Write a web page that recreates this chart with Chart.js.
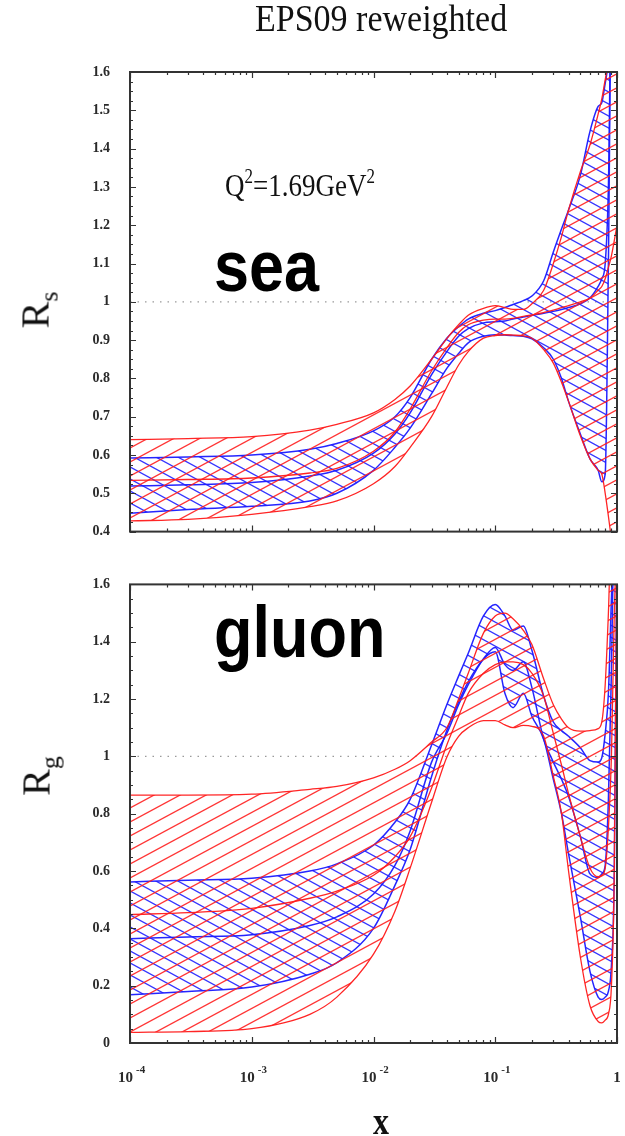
<!DOCTYPE html>
<html><head><meta charset="utf-8">
<script src="https://cdn.jsdelivr.net/npm/chart.js@4.4.0/dist/chart.umd.min.js"></script>
<style>
html,body{margin:0;padding:0;background:#fff;}
#wrap{position:relative;width:625px;height:1136px;overflow:hidden;background:#fff;}
canvas{position:absolute;left:0;}
.t{position:absolute;white-space:nowrap;line-height:1;color:#111;}
.serif{font-family:"Liberation Serif","Times New Roman",serif;}
.sans{font-family:"Liberation Sans",Arial,sans-serif;font-weight:bold;color:#000;}
</style></head><body>
<div id="wrap">
<canvas id="c1" width="625" height="560" style="top:0;width:625px;height:560px"></canvas>
<canvas id="c2" width="625" height="580" style="top:556px;width:625px;height:580px"></canvas>
<div class="t serif" style="left:255px;top:0px;font-size:34px;transform:scaleY(1.12);transform-origin:0 0;">EPS09 reweighted</div>
<div class="t serif" style="left:225px;top:166px;font-size:27px;transform:scaleY(1.2);transform-origin:0 0;">Q<sup style="font-size:17px;vertical-align:11px">2</sup>=1.69GeV<sup style="font-size:17px;vertical-align:11px">2</sup></div>
<div class="t sans" style="left:214px;top:230px;font-size:63px;transform:scaleY(1.15);transform-origin:0 0;">sea</div>
<div class="t sans" style="left:214px;top:596px;font-size:63px;transform:scaleY(1.15);transform-origin:0 0;">gluon</div>
<div class="t serif" style="left:39px;top:310px;font-size:40px;transform:translate(-50%,-50%) rotate(-90deg);">R<sub style="font-size:26px">s</sub></div>
<div class="t serif" style="left:40px;top:776px;font-size:40px;transform:translate(-50%,-50%) rotate(-90deg);">R<sub style="font-size:26px">g</sub></div>
<div class="t serif" style="left:381px;top:1121px;font-size:32px;font-weight:bold;transform:translate(-50%,-50%) scaleY(1.2);">x</div>
</div>
<script>
// ---------------- data ----------------
const xs = [1e-4, 3e-4, 1e-3, 3e-3, 5e-3, 0.01, 0.015, 0.02, 0.03, 0.04, 0.05, 0.06, 0.08, 0.1, 0.12, 0.14, 0.17, 0.2, 0.25, 0.3, 0.35, 0.4, 0.5, 0.6, 0.7, 0.75, 0.8, 0.85, 0.9, 0.95, 1.0];

// sea (R_s) — EPS09 original (red)
const seaRedUp  = [0.64,0.643,0.648,0.665,0.68,0.71,0.745,0.78,0.85,0.904,0.94,0.965,0.983,0.99,0.985,0.98,0.98,0.995,1.03,1.10,1.17,1.24,1.34,1.41,1.49,1.53,1.58,1.62,1.65,1.70,1.75];
const seaRedMid = [0.534,0.536,0.54,0.553,0.565,0.61,0.66,0.72,0.82,0.88,0.92,0.94,0.952,0.955,0.955,0.957,0.962,0.966,0.972,0.978,0.985,0.99,1.0,1.01,1.03,1.04,1.06,1.09,1.12,1.16,1.2];
const seaRedLow = [0.428,0.432,0.445,0.465,0.48,0.525,0.57,0.62,0.70,0.777,0.835,0.87,0.905,0.912,0.914,0.913,0.911,0.905,0.875,0.84,0.79,0.74,0.65,0.59,0.56,0.55,0.50,0.44,0.38,0.32,0.25];
// sea — reweighted (blue)
const seaBlueUp  = [0.592,0.595,0.60,0.615,0.63,0.663,0.70,0.75,0.85,0.905,0.935,0.955,0.97,0.977,0.985,0.993,1.003,1.015,1.055,1.13,1.19,1.24,1.33,1.445,1.51,1.52,1.57,1.62,1.66,1.70,1.75];
const seaBlueMid = [0.519,0.522,0.528,0.545,0.56,0.605,0.655,0.71,0.81,0.87,0.91,0.93,0.945,0.948,0.95,0.955,0.96,0.965,0.97,0.975,0.98,0.985,0.995,1.01,1.04,1.06,1.10,1.3,1.8,1.8,1.8];
const seaBlueLow = [0.448,0.458,0.466,0.48,0.50,0.56,0.62,0.67,0.76,0.826,0.865,0.893,0.91,0.914,0.913,0.912,0.91,0.903,0.88,0.85,0.80,0.74,0.655,0.59,0.56,0.53,0.55,1.1,1.8,1.8,1.8];

// gluon (R_g) — EPS09 original (red)
const gluRedUp  = [0.865,0.865,0.868,0.885,0.895,0.925,0.955,0.985,1.05,1.10,1.20,1.29,1.43,1.49,1.50,1.48,1.44,1.39,1.27,1.18,1.13,1.10,1.088,1.09,1.097,1.12,1.25,1.5,1.8,1.8,1.8];
const gluRedMid = [0.448,0.455,0.47,0.505,0.53,0.585,0.65,0.72,0.89,1.04,1.14,1.22,1.29,1.32,1.33,1.33,1.32,1.29,1.21,1.08,0.97,0.87,0.72,0.61,0.58,0.585,0.61,0.75,1.0,1.5,1.8];
const gluRedLow = [0.037,0.04,0.05,0.10,0.16,0.31,0.46,0.61,0.84,0.997,1.07,1.10,1.125,1.125,1.11,1.10,1.108,1.105,1.07,0.93,0.80,0.60,0.30,0.13,0.075,0.07,0.08,0.10,0.20,0.6,1.8];
// gluon — reweighted (blue)
const gluBlueUp  = [0.562,0.568,0.575,0.60,0.625,0.69,0.77,0.85,1.04,1.18,1.28,1.36,1.49,1.53,1.49,1.44,1.455,1.37,1.21,1.12,1.09,1.07,1.03,0.985,0.98,0.995,1.08,1.22,1.55,1.8,1.8];
const gluBlueMid = [0.364,0.37,0.378,0.41,0.44,0.52,0.62,0.74,0.98,1.08,1.18,1.25,1.34,1.38,1.32,1.30,1.33,1.24,1.06,0.98,0.92,0.86,0.72,0.59,0.577,0.59,0.62,0.85,1.3,1.8,1.8];
const gluBlueLow = [0.168,0.18,0.195,0.24,0.28,0.40,0.55,0.675,0.93,1.09,1.19,1.26,1.34,1.365,1.22,1.17,1.22,1.14,1.06,0.92,0.80,0.66,0.44,0.25,0.16,0.152,0.16,0.18,0.27,0.6,1.8];

// ticks
const seaYTicks = [0.4,0.5,0.6,0.7,0.8,0.9,1,1.1,1.2,1.3,1.4,1.5,1.6];
const gluYTicks = [0,0.2,0.4,0.6,0.8,1,1.2,1.4,1.6];
const xTickValues = [1e-4,1e-3,1e-2,1e-1,1];
const xTickBase = ['10','10','10','10','1'];
const xTickExp = ['-4','-3','-2','-1',''];
const refLevel = 1;

// ---------------- helpers ----------------
function hatch(color, dir, w, h){
  const c = document.createElement('canvas'); c.width = w; c.height = h;
  const g = c.getContext('2d'); g.strokeStyle = color; g.lineWidth = 1.3;
  for (let n = -3; n <= 3; n++){
    g.beginPath();
    if (dir > 0){ g.moveTo(-w, h + n*h); g.lineTo(2*w, -2*h + n*h); }
    else { g.moveTo(-w, -h + n*h); g.lineTo(2*w, 2*h + n*h); }
    g.stroke();
  }
  return g.createPattern(c, 'repeat');
}
const RED = 'rgba(255,25,25,0.95)';
const BLUE = 'rgba(25,25,255,0.95)';
const redPat = hatch('rgba(255,30,30,0.9)', 1, 26, 14);
const bluePat = hatch('rgba(30,30,255,0.9)', -1, 22, 12);

const pts = arr => xs.map((x,i)=>({x:x, y:arr[i]}));
function line(arr, color, w, fill, bg){
  return {data: pts(arr), borderColor: color, borderWidth: w, pointRadius: 0,
          fill: fill, backgroundColor: bg || 'transparent', cubicInterpolationMode: 'monotone'};
}
function band(low, mid, up, color, pat, w){
  return [line(low, color, w, false), line(up, color, w, '-1', pat), line(mid, color, w, false)];
}

const framePlugin = {
  id: 'frame',
  beforeDatasetsDraw(chart, args, o){
    const {ctx, chartArea:a, scales:{y}} = chart;
    const py = y.getPixelForValue(refLevel);
    ctx.save(); ctx.strokeStyle = '#9a9a9a'; ctx.lineWidth = 1.2; ctx.setLineDash([1.5, 6]);
    ctx.beginPath(); ctx.moveTo(a.left, py); ctx.lineTo(a.right, py); ctx.stroke(); ctx.restore();
  },
  afterDatasetsDraw(chart, args, o){
    const {ctx, chartArea:a, scales:{x, y}} = chart;
    ctx.save();
    ctx.strokeStyle = '#333'; ctx.lineWidth = 1.2;
    ctx.beginPath();
    for (let d = -4; d <= 0; d++){
      for (let m = 1; m <= 9; m++){
        const v = m * Math.pow(10, d); if (v > 1.0001) break;
        const px = Math.round(x.getPixelForValue(v)) + 0.5;
        const L = m === 1 ? 6 : 3;
        ctx.moveTo(px, a.bottom); ctx.lineTo(px, a.bottom - L);
        ctx.moveTo(px, a.top); ctx.lineTo(px, a.top + L);
      }
    }
    const nMin = Math.round((o.max - o.min) / o.minor);
    for (let k = 0; k <= nMin; k++){
      const v = o.min + k * o.minor;
      const major = Math.abs(v / o.major - Math.round(v / o.major)) < 1e-6;
      const py = Math.round(y.getPixelForValue(v)) + 0.5;
      const L = major ? 6 : 3;
      ctx.moveTo(a.left, py); ctx.lineTo(a.left + L, py);
      ctx.moveTo(a.right, py); ctx.lineTo(a.right - L, py);
    }
    ctx.stroke();
    ctx.strokeStyle = '#333'; ctx.lineWidth = 2;
    ctx.strokeRect(a.left, a.top, a.right - a.left, a.bottom - a.top);
    if (o.xlabels){
      ctx.fillStyle = '#2a2a2a';
      xTickValues.forEach((v, i) => {
        const px = x.getPixelForValue(v);
        ctx.textBaseline = 'middle';
        ctx.font = 'bold 15px "Liberation Serif", serif';
        if (xTickExp[i] === ''){
          ctx.textAlign = 'center'; ctx.fillText(xTickBase[i], px, o.labelY);
        } else {
          ctx.textAlign = 'right'; ctx.fillText(xTickBase[i], px + 3, o.labelY);
          ctx.font = 'bold 11px "Liberation Serif", serif';
          ctx.textAlign = 'left'; ctx.fillText(xTickExp[i], px + 6, o.labelY - 8);
        }
      });
    }
    ctx.restore();
  }
};

function makeChart(id, datasets, yMin, yMax, yTicks, pad, frameOpts){
  return new Chart(document.getElementById(id), {
    type: 'line',
    data: { datasets },
    options: {
      responsive: false, animation: false, devicePixelRatio: 1,
      layout: { padding: pad },
      plugins: { legend: {display:false}, tooltip: {enabled:false}, frame: frameOpts },
      scales: {
        x: { type: 'logarithmic', min: 1e-4, max: 1, display: true,
             grid: {display:false, drawTicks:false}, border: {display:false}, ticks: {display:false},
             afterFit: s => { s.height = 0; } },
        y: { min: yMin, max: yMax, grid: {display:false, drawTicks:false}, border: {display:false},
             afterBuildTicks: s => { s.ticks = yTicks.map(v => ({value: v})); },
             ticks: { padding: 20, color: '#2a2a2a', autoSkip: false,
                      font: { family: '"Liberation Serif", serif', weight: 'bold', size: 14 },
                      callback: v => String(Math.round(v * 10) / 10) },
             afterFit: s => { s.width = 130; } }
      }
    },
    plugins: [framePlugin]
  });
}

makeChart('c1',
  [...band(seaRedLow, seaRedMid, seaRedUp, RED, redPat, 1.3),
   ...band(seaBlueLow, seaBlueMid, seaBlueUp, BLUE, bluePat, 1.5)],
  0.4, 1.6, seaYTicks, {left:0, right:8, top:72, bottom:14},
  {min:0.4, max:1.6, minor:0.025, major:0.1, xlabels:false});

makeChart('c2',
  [...band(gluRedLow, gluRedMid, gluRedUp, RED, redPat, 1.3),
   ...band(gluBlueLow, gluBlueMid, gluBlueUp, BLUE, bluePat, 1.5)],
  0, 1.6, gluYTicks, {left:0, right:8, top:12, bottom:93},
  {min:0, max:1.6, minor:0.05, major:0.2, xlabels:true, labelY:522});
</script>
</body></html>
